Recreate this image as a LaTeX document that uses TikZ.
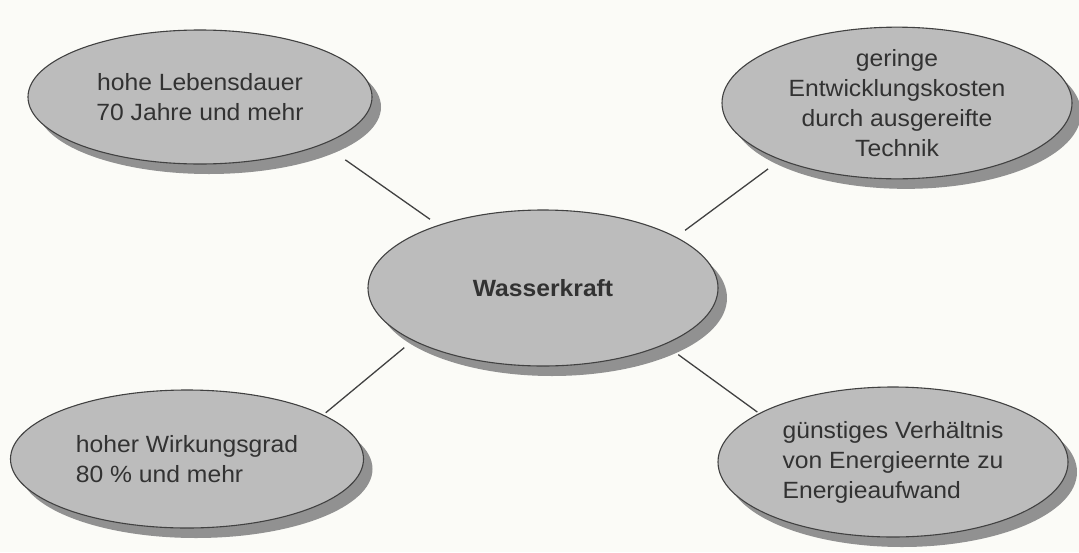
\documentclass[tikz,border=0pt]{standalone}
\usepackage{fontspec}
\setmainfont[FakeStretch=1.05]{Liberation Sans}
\usetikzlibrary{shapes.geometric,shadows}
\definecolor{bgcol}{RGB}{251,251,247}
\definecolor{fillgray}{RGB}{188,188,188}
\definecolor{shadowgray}{RGB}{145,145,145}
\definecolor{outlinegray}{RGB}{65,65,65}
\definecolor{textgray}{RGB}{50,50,50}
\tikzset{
  bubble/.style={ellipse, draw=outlinegray, line width=1.1pt, fill=fillgray,
    inner sep=0pt, text=textgray,
    font=\fontsize{23.5}{30}\selectfont,
    general shadow={fill=shadowgray, shadow xshift=9pt, shadow yshift=-10pt}},
  link/.style={draw=outlinegray, line width=1.3pt}
}
\begin{document}
\begin{tikzpicture}[x=1pt,y=-1pt]
\fill[bgcol] (0,0) rectangle (1079,552);
\useasboundingbox (0,0) rectangle (1079,552);
\node[bubble, minimum width=344pt, minimum height=134pt, align=center] (tl) at (200,97)
  {hohe Lebensdauer\\70 Jahre und mehr};
\node[bubble, minimum width=350pt, minimum height=148pt, align=center] (tr) at (897,103)
  {geringe\\Entwicklungskosten\\durch ausgereifte\\Technik};
\node[bubble, minimum width=350pt, minimum height=156pt, font=\fontsize{23.5}{30}\selectfont\bfseries] (c) at (543,288)
  {Wasserkraft};
\node[bubble, minimum width=353pt, minimum height=138pt, align=left] (bl) at (187,459)
  {hoher Wirkungsgrad\\80 \% und mehr};
\node[bubble, minimum width=350pt, minimum height=150pt, align=left] (br) at (893,462)
  {günstiges Verhältnis\\von Energieernte zu\\Energieaufwand};
\draw[link, shorten <=27pt, shorten >=10pt] (tl.-21.4) -- (c.149.8);
\draw[link, shorten <=15pt, shorten >=11pt] (tr.-154) -- (c.21.3);
\draw[link, shorten <=3pt, shorten >=11pt] (bl.18.8) -- (c.202.6);
\draw[link, shorten <=2pt, shorten >=17pt] (br.160.4) -- (c.-25.4);
\end{tikzpicture}
\end{document}
